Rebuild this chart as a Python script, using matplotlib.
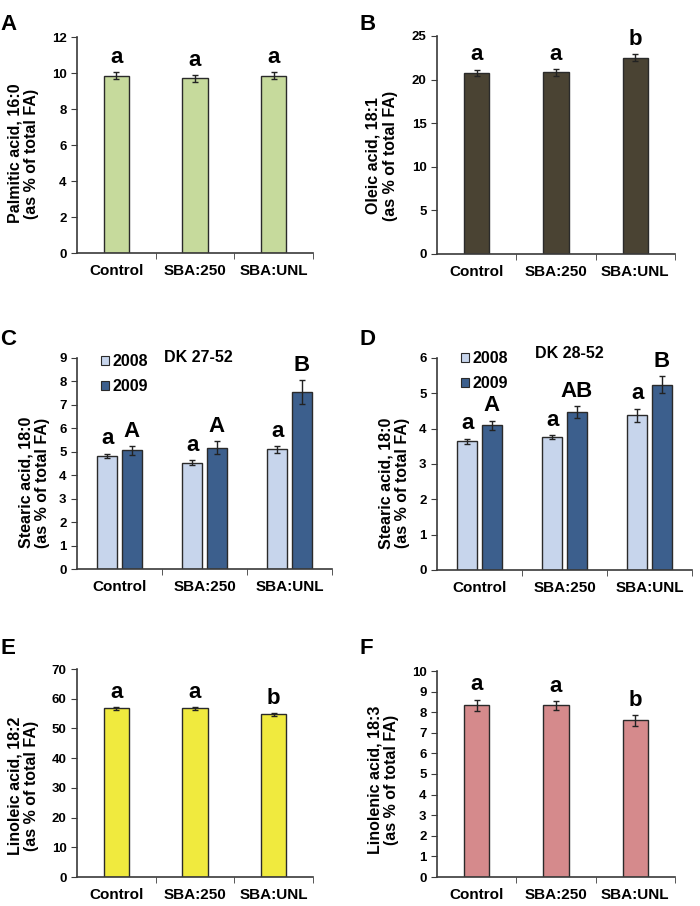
import numpy as np
import matplotlib.pyplot as plt
from matplotlib.patches import Patch

plt.rcParams['font.family'] = ['Liberation Sans', 'DejaVu Sans']
plt.rcParams['font.weight'] = 'bold'

# data
groups = ["Control", "SBA:250", "SBA:UNL"]

palmitic = [9.85, 9.7, 9.85]
palmitic_err = [0.2, 0.2, 0.18]
palmitic_sig = ["a", "a", "a"]

oleic = [20.8, 20.85, 22.5]
oleic_err = [0.35, 0.4, 0.4]
oleic_sig = ["a", "a", "b"]

stearic_c_2008 = [4.82, 4.53, 5.1]
stearic_c_2008_err = [0.1, 0.1, 0.15]
stearic_c_2009 = [5.06, 5.18, 7.55]
stearic_c_2009_err = [0.18, 0.27, 0.5]
stearic_c_sig_2008 = ["a", "a", "a"]
stearic_c_sig_2009 = ["A", "A", "B"]

stearic_d_2008 = [3.65, 3.77, 4.38]
stearic_d_2008_err = [0.07, 0.06, 0.19]
stearic_d_2009 = [4.1, 4.48, 5.25]
stearic_d_2009_err = [0.13, 0.17, 0.23]
stearic_d_sig_2008 = ["a", "a", "a"]
stearic_d_sig_2009 = ["A", "AB", "B"]

linoleic = [56.8, 56.8, 54.7]
linoleic_err = [0.5, 0.45, 0.5]
linoleic_sig = ["a", "a", "b"]

linolenic = [8.33, 8.33, 7.6]
linolenic_err = [0.28, 0.22, 0.25]
linolenic_sig = ["a", "a", "b"]

years = ["2008", "2009"]

W, H = 700, 906
fig = plt.figure(figsize=(7, 9.06), dpi=100)

edge = '#2a2a2a'
axcol = '#3a3a3a'


def make_ax(l, r, t, b):
    return fig.add_axes([l / W, (H - b) / H, (r - l) / W, (b - t) / H])


def style(ax, ymax, step, ylabel, lx, ly):
    x = np.arange(len(groups))
    ax.set_xlim(-0.5, 2.5)
    ax.set_ylim(0, ymax)
    ax.set_yticks(np.arange(0, ymax + step / 2, step))
    ax.set_xticks(x)
    ax.set_xticklabels(groups, fontsize=11, fontweight='bold')
    ax.set_xticks([0.5, 1.5, 2.5], minor=True)
    ax.tick_params(axis='x', which='major', length=0, pad=8)
    ax.tick_params(axis='x', which='minor', length=4, direction='out', color=axcol)
    ax.tick_params(axis='y', length=4, direction='out', color=axcol, labelsize=9.5)
    for lab in ax.get_yticklabels():
        lab.set_fontweight('bold')
    for s in ['top', 'right']:
        ax.spines[s].set_visible(False)
    for s in ['left', 'bottom']:
        ax.spines[s].set_color(axcol)
        ax.spines[s].set_linewidth(1.2)
    ax.set_ylabel(ylabel, fontsize=11.5, fontweight='bold', linespacing=1.15)
    ax.yaxis.set_label_coords(lx, ly)


def sig(ax, xs, vals, errs, labels):
    for xi, v, e, s in zip(xs, vals, errs, labels):
        ax.annotate(s, (xi, v + e), xytext=(0, 3), textcoords='offset points',
                    ha='center', va='bottom', fontsize=16, fontweight='bold')


def single(ax, vals, errs, labels, color, width=0.32):
    x = np.arange(len(groups))
    ax.bar(x, vals, width=width, color=color, edgecolor=edge, linewidth=1.0,
           yerr=errs, error_kw=dict(ecolor='#222222', elinewidth=1, capsize=2.5, capthick=1))
    sig(ax, x, vals, errs, labels)


def double(ax, v1, e1, v2, e2, s1, s2, title, tx, ty, lgx, lgy):
    x = np.arange(len(groups))
    w = 0.235
    off = 0.145
    c1, c2 = '#c7d5ec', '#3c5f8d'
    kw = dict(ecolor='#222222', elinewidth=1, capsize=2.5, capthick=1)
    ax.bar(x - off, v1, width=w, color=c1, edgecolor=edge, linewidth=1.0, yerr=e1, error_kw=kw)
    ax.bar(x + off, v2, width=w, color=c2, edgecolor=edge, linewidth=1.0, yerr=e2, error_kw=kw)
    sig(ax, x - off, v1, e1, s1)
    sig(ax, x + off, v2, e2, s2)
    ax.text(tx, ty, title, transform=ax.transAxes, ha='center', va='center',
            fontsize=11.5, fontweight='bold')
    handles = [Patch(facecolor=c1, edgecolor=edge, linewidth=0.8),
               Patch(facecolor=c2, edgecolor=edge, linewidth=0.8)]
    ax.legend(handles, years, loc='upper left', bbox_to_anchor=(lgx, lgy),
              frameon=False, handlelength=0.5, handleheight=0.5,
              handletextpad=0.25, labelspacing=0.6, borderpad=0.2,
              prop=dict(size=11.5, weight='bold'))


# A
axA = make_ax(77, 313, 37, 253)
single(axA, palmitic, palmitic_err, palmitic_sig, '#c6da9c')
style(axA, 12, 2, "Palmitic acid, 16:0\n(as % of total FA)", -0.16, 0.46)

# B
axB = make_ax(437, 675, 36, 254)
single(axB, oleic, oleic_err, oleic_sig, '#4a4333')
style(axB, 25, 5, "Oleic acid, 18:1\n(as % of total FA)", -0.165, 0.45)

# C
axC = make_ax(77, 332, 358, 569)
double(axC, stearic_c_2008, stearic_c_2008_err, stearic_c_2009, stearic_c_2009_err,
       stearic_c_sig_2008, stearic_c_sig_2009, "DK 27-52", 0.475, 1.0, 0.05, 1.07)
style(axC, 9, 1, "Stearic acid, 18:0\n(as % of total FA)", -0.105, 0.41)

# D
axD = make_ax(437, 692, 358, 570)
double(axD, stearic_d_2008, stearic_d_2008_err, stearic_d_2009, stearic_d_2009_err,
       stearic_d_sig_2008, stearic_d_sig_2009, "DK 28-52", 0.52, 1.02, 0.05, 1.085)
style(axD, 6, 1, "Stearic acid, 18:0\n(as % of total FA)", -0.105, 0.41)

# E
axE = make_ax(77, 313, 669, 877)
single(axE, linoleic, linoleic_err, linoleic_sig, '#f0ea3e')
style(axE, 70, 10, "Linoleic acid, 18:2\n(as % of total FA)", -0.16, 0.44)

# F
axF = make_ax(437, 675, 671, 877)
single(axF, linolenic, linolenic_err, linolenic_sig, '#d58a8c')
style(axF, 10, 1, "Linolenic acid, 18:3\n(as % of total FA)", -0.16, 0.47)

# panel letters
for lab, px, py in [("A", 0, 24), ("B", 360, 24), ("C", 0, 340), ("D", 360, 340),
                    ("E", 0, 648), ("F", 360, 648)]:
    fig.text(px / W, 1 - py / H, lab, ha='left', va='center', fontsize=16, fontweight='bold')

fig.savefig("out.png", dpi=100)
